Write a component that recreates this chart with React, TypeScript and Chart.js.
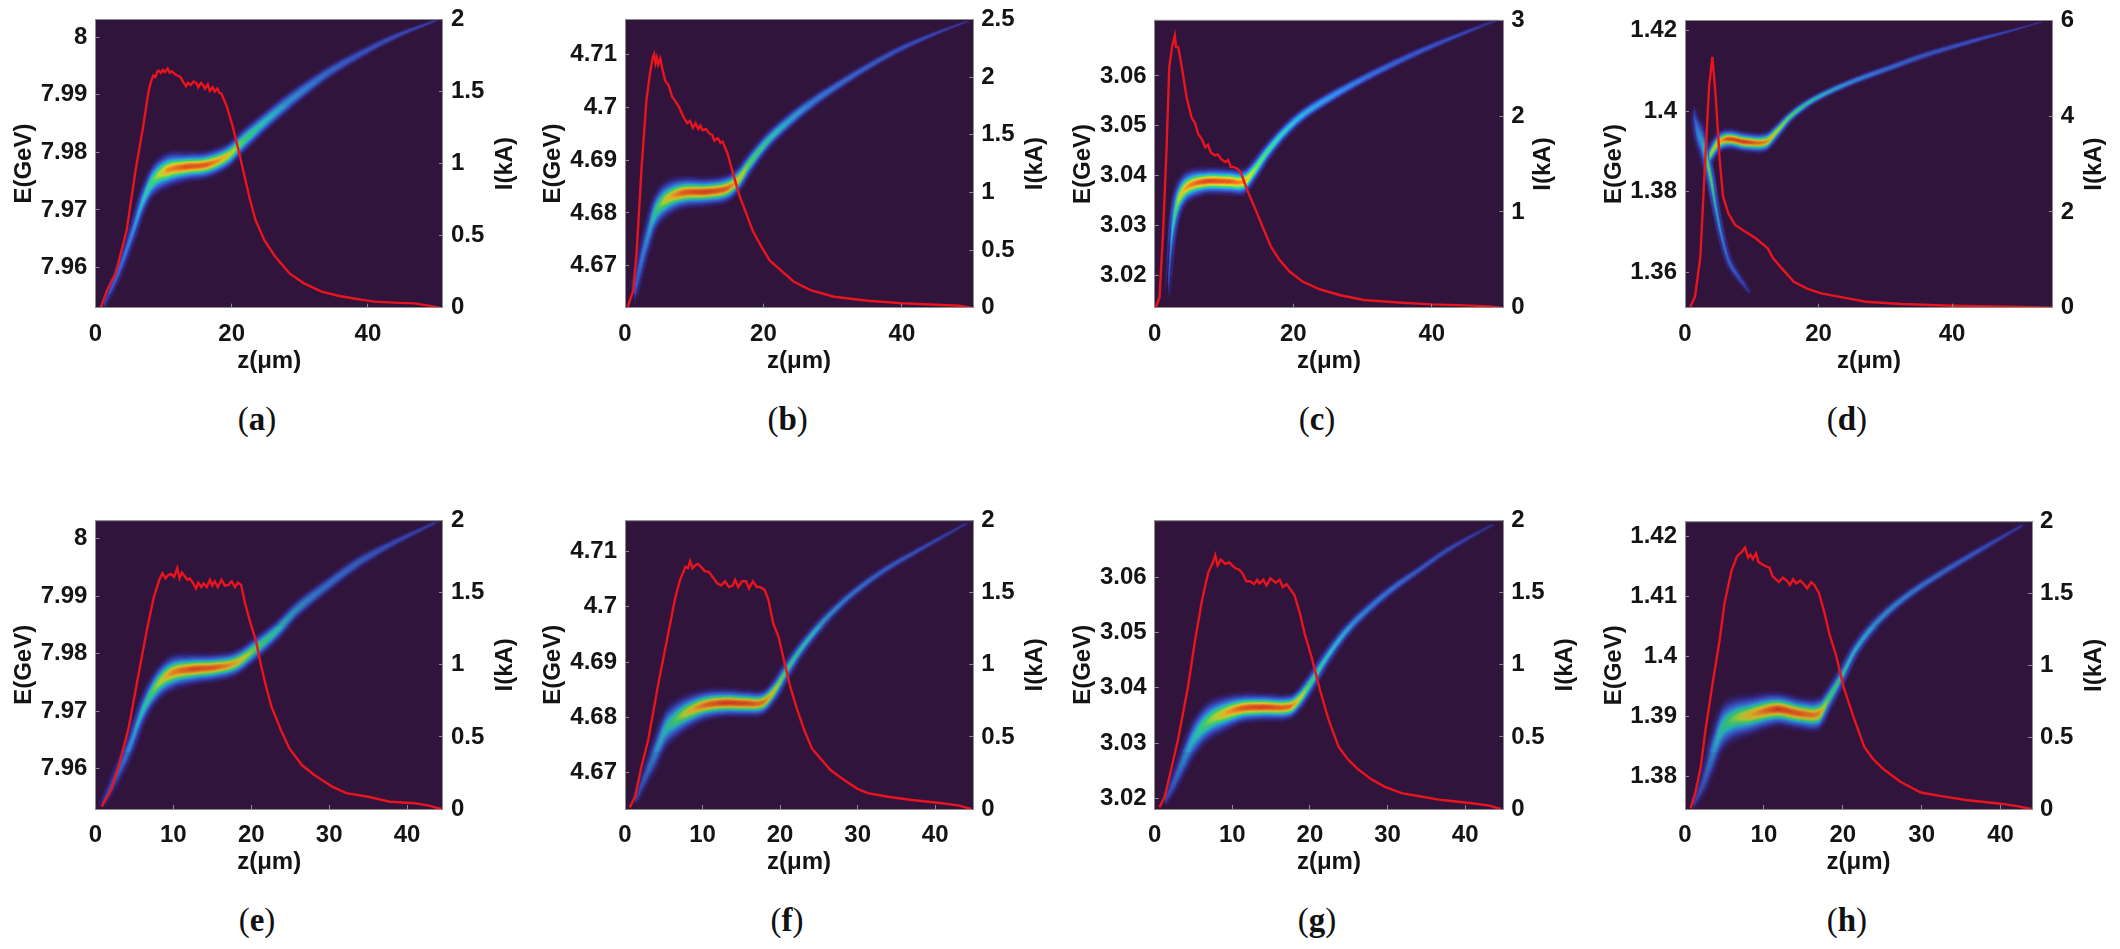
import React, { useEffect, useRef } from "react";
import { Chart, registerables } from "chart.js";

Chart.register(...registerables);

// ---------- tick labels ----------
const zTicksWide = [0, 20, 40];
const zTicksNarrow = [0, 10, 20, 30, 40];
const eTicksA = [7.96, 7.97, 7.98, 7.99, 8];
const eTicksB = [4.67, 4.68, 4.69, 4.7, 4.71];
const eTicksC = [3.02, 3.03, 3.04, 3.05, 3.06];
const eTicksD = [1.36, 1.38, 1.4, 1.42];
const eTicksH = [1.38, 1.39, 1.4, 1.41, 1.42];
const iTicks2 = [0, 0.5, 1, 1.5, 2];
const iTicks25 = [0, 0.5, 1, 1.5, 2, 2.5];
const iTicks3 = [0, 1, 2, 3];
const iTicks6 = [0, 2, 4, 6];

// ---------- red current profiles: [z (um), I (kA)] ----------
const currentA = [[0.8,0],[1.7,.12],[3,.24],[4.6,.54],[5.9,.955],[7,1.255],[7.75,1.487],[8.1,1.56],[8.5,1.61],[8.8,1.6],[9.1,1.64],[9.3,1.645],[9.6,1.63],[9.9,1.65],[10.2,1.635],[10.6,1.66],[10.9,1.63],[11.2,1.64],[11.7,1.62],[12.1,1.61],[12.5,1.6],[12.9,1.565],[13.3,1.537],[13.6,1.56],[14,1.545],[14.4,1.57],[14.8,1.56],[15.1,1.53],[15.5,1.56],[15.8,1.545],[16.1,1.52],[16.5,1.55],[16.8,1.505],[17.2,1.53],[17.5,1.5],[17.9,1.52],[18.2,1.49],[18.5,1.487],[19.3,1.394],[20.1,1.267],[21,1.094],[21.9,.909],[22.7,.747],[23.5,.608],[24.8,.469],[26.4,.354],[28.5,.238],[30.6,.169],[33.2,.111],[35.8,.081],[38.4,.06],[41,.042],[43.7,.035],[46.8,.03],[48.9,.014],[50.5,0]];
const currentB = [[.4,.01],[1.2,.15],[1.7,.5],[2.4,1.22],[3.1,1.8],[3.6,2.03],[4,2.17],[4.2,2.2],[4.4,2.12],[4.6,2.17],[4.8,2.11],[5.1,2.16],[5.4,2.07],[5.8,1.97],[6.3,1.93],[6.8,1.83],[7.3,1.79],[7.8,1.74],[8.4,1.66],[9,1.6],[9.4,1.62],[9.8,1.56],[10.2,1.6],[10.6,1.55],[10.9,1.58],[11.2,1.54],[11.7,1.55],[12.2,1.51],[12.6,1.5],[12.9,1.45],[13.4,1.47],[13.8,1.43],[14.1,1.44],[14.8,1.34],[15.6,1.165],[16.6,.96],[17.5,.82],[18.5,.66],[19.7,.53],[20.9,.41],[22.4,.33],[24.4,.225],[26.8,.153],[30.2,.095],[35.1,.06],[40,.038],[44.9,.026],[48.3,.017],[50,0]];
const currentC = [[.2,.01],[.7,.11],[1.2,.77],[1.7,1.64],[2.1,2.51],[2.5,2.72],[2.9,2.84],[3.1,2.72],[3.4,2.72],[4,2.47],[4.6,2.2],[5.3,1.99],[5.8,1.93],[6.3,1.81],[6.8,1.76],[7.3,1.675],[7.7,1.7],[8.1,1.62],[8.7,1.59],[9.1,1.6],[9.6,1.55],[10.2,1.52],[10.6,1.54],[11,1.47],[11.4,1.47],[11.9,1.45],[12.4,1.415],[13.4,1.22],[14.6,1.016],[15.6,.84],[16.8,.635],[18,.5],[19.5,.375],[21.4,.27],[23.9,.19],[26.8,.13],[30.2,.08],[35.1,.055],[40,.035],[44.9,.024],[48.3,.014],[50,0]];
const currentD = [[.8,.02],[1.5,.23],[2.3,1.06],[3.1,3.29],[3.6,4.61],[4.1,5.24],[4.6,4.41],[5.2,3.08],[5.7,2.32],[6.5,1.97],[7.5,1.73],[9,1.59],[10.6,1.45],[12.4,1.24],[13.2,1.03],[14.7,.79],[16.3,.54],[18.3,.4],[20.4,.3],[23,.23],[27.1,.125],[32.3,.077],[40,.04],[48.8,.02],[55,0]];
const currentE = [[.8,.016],[2,.13],[3.1,.32],[4.3,.57],[5.4,.895],[6.6,1.24],[7.5,1.47],[8.2,1.59],[8.6,1.635],[9,1.6],[9.3,1.62],[9.7,1.63],[10.1,1.61],[10.5,1.67],[10.8,1.6],[11.1,1.64],[11.4,1.62],[11.8,1.59],[12.1,1.6],[12.5,1.57],[12.9,1.53],[13.2,1.57],[13.6,1.54],[13.9,1.565],[14.3,1.54],[14.7,1.59],[15,1.55],[15.3,1.58],[15.7,1.54],[16.2,1.59],[16.6,1.55],[17.1,1.555],[17.5,1.58],[17.9,1.54],[18.3,1.57],[18.7,1.555],[19.2,1.43],[19.9,1.29],[20.6,1.17],[21.2,1.01],[21.9,.85],[22.6,.71],[23.8,.55],[24.9,.42],[26.5,.305],[28.1,.236],[30.4,.155],[32.2,.11],[35,.085],[37.8,.05],[41,.04],[42.8,.023],[44.4,0]];
const currentF = [[.6,.01],[1.3,.085],[2.1,.29],[3,.48],[4.3,.87],[5.4,1.17],[6.5,1.47],[7.1,1.59],[7.8,1.68],[8.1,1.67],[8.4,1.72],[8.7,1.67],[9,1.69],[9.4,1.7],[9.8,1.68],[10.3,1.65],[10.8,1.645],[11.3,1.61],[11.9,1.565],[12.4,1.55],[12.9,1.58],[13.4,1.54],[13.9,1.55],[14.2,1.59],[14.6,1.54],[15.1,1.58],[15.6,1.58],[16,1.53],[16.5,1.58],[17,1.54],[17.4,1.54],[18,1.52],[18.5,1.45],[19.1,1.29],[19.8,1.195],[20.4,1.055],[21.3,.85],[22.2,.69],[23.1,.55],[24.1,.42],[25.2,.35],[26.5,.27],[28.3,.2],[30,.14],[31.3,.11],[33.9,.085],[37,.062],[40.9,.04],[43.1,.023],[44.6,0]];
const currentG = [[.6,.01],[1.3,.085],[2.1,.27],[3,.48],[4.3,.85],[5.2,1.17],[6.1,1.45],[6.9,1.64],[7.5,1.71],[7.8,1.76],[8.1,1.69],[8.5,1.73],[9.1,1.7],[9.6,1.71],[10.4,1.67],[10.9,1.66],[11.3,1.635],[11.8,1.58],[12.3,1.58],[12.8,1.56],[13.2,1.59],[13.5,1.565],[14,1.59],[14.4,1.55],[14.9,1.6],[15.6,1.57],[16.1,1.59],[16.5,1.54],[17,1.56],[17.4,1.53],[18,1.485],[18.7,1.36],[19.3,1.22],[20.2,1.055],[21.3,.825],[22.4,.62],[23.7,.43],[24.8,.35],[26.1,.28],[27.8,.21],[29.6,.155],[31.8,.11],[33.9,.09],[37,.062],[40.9,.04],[43.1,.023],[44.6,0]];
const currentH = [[.7,.005],[1.3,.11],[2,.295],[2.6,.55],[3.5,.875],[4.4,1.18],[5,1.43],[5.9,1.66],[6.6,1.76],[7.2,1.79],[7.6,1.82],[8,1.75],[8.3,1.77],[8.6,1.74],[9,1.78],[9.3,1.72],[9.6,1.71],[10.2,1.69],[10.7,1.68],[11.1,1.62],[11.4,1.605],[11.9,1.58],[12.4,1.61],[12.9,1.59],[13.3,1.56],[13.7,1.6],[14.1,1.57],[14.6,1.59],[15,1.57],[15.5,1.535],[16,1.58],[16.4,1.56],[17,1.5],[17.7,1.36],[18.3,1.22],[19.2,1.06],[20.1,.85],[21.2,.665],[22.7,.435],[23.8,.35],[25.1,.28],[27.3,.19],[29.9,.115],[32.5,.09],[35.6,.063],[40,.037],[42.1,.02],[43.9,0]];

// ---------- beam ridges: [z (um), centre E (GeV), half extent (GeV), peak density 0..1] ----------
const ridgeA = [[1.2,7.9534,.0007,.15],[3.3,7.959,.0017,.2],[5.4,7.9659,.002,.3],[7,7.9717,.0023,.42],[8.5,7.9752,.0026,.58],[10.6,7.9769,.0026,.85],[13.3,7.9775,.0021,.95],[16.4,7.9779,.002,.92],[19.5,7.9795,.0019,.75],[21.6,7.9819,.0019,.58],[24.8,7.9853,.0017,.45],[27.9,7.9884,.0016,.37],[31.1,7.9913,.0014,.32],[34.2,7.9939,.0012,.25],[38.4,7.9968,.001,.2],[43.7,8,.0007,.17],[49.9,8.0029,.0003,.12]];
const ridgeB = [[1.4,4.6654,.0028,.2],[2.4,4.6711,.0032,.28],[3.4,4.6761,.0033,.35],[4.3,4.6799,.0033,.5],[5.8,4.6824,.003,.72],[8.3,4.6838,.0025,.92],[11.7,4.684,.0022,.97],[14.6,4.6846,.0022,.92],[16.3,4.6862,.0021,.78],[18,4.6894,.0019,.6],[20.5,4.6935,.0016,.5],[23.4,4.6971,.0015,.4],[26.3,4.7002,.0013,.33],[30.2,4.7037,.0011,.27],[35.1,4.7077,.0009,.22],[40,4.7112,.0008,.18],[44.9,4.714,.0005,.15],[49.3,4.7162,.00025,.1]];
const ridgeC = [[1.9,3.0175,.0035,.1],[2.15,3.0217,.0047,.18],[2.4,3.027,.0047,.35],[2.9,3.0324,.004,.55],[3.6,3.0357,.0033,.72],[4.8,3.0378,.0027,.85],[7.3,3.0388,.0022,.97],[10.7,3.0388,.0022,.95],[12.9,3.0388,.0022,.85],[14.4,3.0411,.002,.65],[16.1,3.0445,.0017,.55],[18.5,3.0485,.0015,.45],[21.4,3.0522,.0013,.38],[25.3,3.0557,.0012,.32],[30.2,3.0595,.001,.25],[35.1,3.0629,.00095,.2],[40,3.066,.0008,.17],[44.9,3.0688,.00055,.14],[49.3,3.0712,.0003,.1]];
const ridgeD1 = [[1.3,1.399,.0032,.12],[1.8,1.3953,.0041,.3],[2.6,1.392,.0046,.38],[3.4,1.387,.0037,.62],[4.1,1.3812,.0033,.6],[4.6,1.3762,.0025,.45],[5.4,1.3696,.002,.35],[6.5,1.363,.0018,.22],[8,1.3588,.0012,.18],[9.6,1.3551,.0007,.1]];
const ridgeD2 = [[3.6,1.3887,.0021,.65],[4.9,1.392,.0023,.75],[6.5,1.3931,.0021,.95],[9,1.3924,.0021,.97],[12.1,1.3924,.0021,.85],[13.7,1.3949,.0017,.7],[15.7,1.3986,.0012,.6],[18.3,1.4019,.0011,.5],[21.4,1.4047,.001,.42],[25.6,1.4077,.001,.33],[30.7,1.4108,.001,.25],[35.9,1.4139,.001,.2],[43.6,1.4177,.0008,.17],[48.8,1.42,.0005,.13],[53.4,1.4222,.00025,.08]];
const ridgeE = [[.8,7.9537,.0007,.15],[2.4,7.958,.0019,.22],[4.3,7.9635,.0022,.32],[6.1,7.9702,.0023,.45],[7.9,7.9745,.0026,.65],[9.8,7.9766,.0026,.85],[12.5,7.9773,.0022,.95],[15.3,7.9776,.002,.92],[18,7.9784,.0019,.8],[20.3,7.9806,.0019,.62],[23.1,7.9838,.0017,.48],[25.8,7.9876,.0016,.38],[29,7.9911,.0014,.3],[33.6,7.9957,.0012,.25],[38.2,7.9992,.0008,.18],[43.7,8.0028,.00035,.12]];
const ridgeF = [[1.3,4.6647,.0009,.15],[2.6,4.6692,.0021,.25],[3.9,4.6734,.003,.35],[5.2,4.6777,.0033,.45],[6.5,4.6795,.0031,.58],[8.2,4.681,.0027,.75],[10.4,4.6822,.0023,.9],[13,4.6826,.0021,.97],[15.6,4.6825,.002,.95],[17.8,4.6827,.0019,.88],[19.3,4.6849,.0018,.72],[20.9,4.6886,.0016,.55],[22.6,4.6922,.0013,.48],[24.8,4.6961,.0012,.42],[27,4.6994,.001,.36],[29.6,4.7027,.0009,.3],[33.5,4.7067,.0008,.24],[37.9,4.7103,.0006,.2],[44,4.7151,.00025,.12]];
const ridgeG = [[1.3,3.0194,.0011,.15],[2.6,3.0233,.0023,.25],[3.9,3.0275,.003,.35],[5.2,3.0312,.0033,.45],[6.9,3.0339,.0031,.62],[9.1,3.0354,.0027,.8],[11.3,3.0363,.0022,.93],[13.9,3.0365,.002,.97],[17.4,3.0366,.0019,.9],[18.7,3.0381,.0018,.72],[20.2,3.0411,.0017,.55],[22.2,3.0456,.0014,.45],[24.8,3.0505,.0012,.38],[27.4,3.0541,.0011,.32],[30.4,3.0577,.001,.28],[33.9,3.0612,.0008,.22],[37.9,3.0651,.0007,.18],[43.5,3.0695,.00025,.1]];
const ridgeH = [[1.1,1.3753,.0008,.14],[2.4,1.3794,.0025,.22],[3.5,1.3839,.0036,.35],[4.6,1.3878,.0036,.48],[5.9,1.3894,.0032,.6],[8.1,1.3902,.0028,.78],[11.6,1.3912,.0023,.97],[14.6,1.3905,.0022,.92],[17,1.3905,.0023,.85],[18.1,1.3927,.0018,.6],[19.9,1.3968,.0014,.5],[21.6,1.4011,.0012,.42],[24.2,1.4055,.0011,.38],[27.7,1.4096,.0009,.34],[32.1,1.4135,.0008,.28],[36.9,1.4173,.0007,.22],[42.8,1.4218,.0003,.12]];

// ---------- colours ----------
const plotBackground = "#31143b";
const jetStops: number[][] = [
  [0, 49, 20, 59], [0.05, 50, 38, 120], [0.15, 58, 80, 200], [0.3, 50, 140, 235], [0.43, 40, 205, 205],
  [0.56, 60, 225, 120], [0.68, 190, 235, 50], [0.78, 250, 200, 40], [0.88, 250, 130, 30], [1, 225, 50, 30],
];
const heatLevels = 48;
const beamSpreadZ = 0.55; // sideways softness of the beam, in um
const spreadOffsets = [-1.2, -0.8, -0.4, 0, 0.4, 0.8, 1.2];

function colourFor(v: number) {
  for (let i = 1; i < jetStops.length; i++) {
    if (v <= jetStops[i][0]) {
      const a = jetStops[i - 1], b = jetStops[i];
      const t = (v - a[0]) / (b[0] - a[0]);
      return `rgb(${Math.round(a[1] + (b[1] - a[1]) * t)},${Math.round(a[2] + (b[2] - a[2]) * t)},${Math.round(a[3] + (b[3] - a[3]) * t)})`;
    }
  }
  return "rgb(225,50,30)";
}

// ---------- panels: ranges, ticks, layout on the page ----------
const panels = [
  { cap: "a", zMax: 51, eMin: 7.953, eMax: 8.0031, iMax: 2, zT: zTicksWide, eT: eTicksA, iT: iTicks2, cur: currentA, rid: [ridgeA], L: 95.4, R: 442.9, T: 19.5, B: 307.7, lt: 24.3, rt: 505.4, cx: 257 },
  { cap: "b", zMax: 50.3, eMin: 4.66205, eMax: 4.71662, iMax: 2.5, zT: zTicksWide, eT: eTicksB, iT: iTicks25, cur: currentB, rid: [ridgeB], L: 625, R: 973.2, T: 19.5, B: 307.7, lt: 553, rt: 1035.4, cx: 787.6 },
  { cap: "c", zMax: 50.3, eMin: 3.01343, eMax: 3.07119, iMax: 3, zT: zTicksWide, eT: eTicksC, iT: iTicks3, cur: currentC, rid: [ridgeC], L: 1154.7, R: 1503.2, T: 20.3, B: 307.7, lt: 1083, rt: 1543.4, cx: 1317 },
  { cap: "d", zMax: 55.1, eMin: 1.35113, eMax: 1.42257, iMax: 6, zT: zTicksWide, eT: eTicksD, iT: iTicks6, cur: currentD, rid: [ridgeD1, ridgeD2], L: 1685, R: 2052.8, T: 20.5, B: 307.7, lt: 1614.4, rt: 2094.8, cx: 1846.9 },
  { cap: "e", zMax: 44.6, eMin: 7.953, eMax: 8.0031, iMax: 2, zT: zTicksNarrow, eT: eTicksA, iT: iTicks2, cur: currentE, rid: [ridgeE], L: 95.4, R: 442.9, T: 520.7, B: 809, lt: 24.3, rt: 505.4, cx: 257 },
  { cap: "f", zMax: 44.9, eMin: 4.66335, eMax: 4.71562, iMax: 2, zT: zTicksNarrow, eT: eTicksB, iT: iTicks2, cur: currentF, rid: [ridgeF], L: 625, R: 973.2, T: 520.7, B: 809, lt: 553, rt: 1035.4, cx: 787 },
  { cap: "g", zMax: 44.9, eMin: 3.01807, eMax: 3.07026, iMax: 2, zT: zTicksNarrow, eT: eTicksC, iT: iTicks2, cur: currentG, rid: [ridgeG], L: 1154.7, R: 1503.2, T: 520.7, B: 809, lt: 1083, rt: 1565.4, cx: 1317 },
  { cap: "h", zMax: 44, eMin: 1.37463, eMax: 1.42238, iMax: 2, zT: zTicksNarrow, eT: eTicksH, iT: iTicks2, cur: currentH, rid: [ridgeH], L: 1685, R: 2032.1, T: 521.7, B: 809, lt: 1614.4, rt: 2094.8, cx: 1846.9 },
];

// Smooth reading of a ridge's knots at a given z.
function ridgeAt(r: number[][], z: number) {
  if (z < r[0][0] || z > r[r.length - 1][0]) return null;
  let i = 0;
  while (i < r.length - 2 && z > r[i + 1][0]) i++;
  const a = r[i], b = r[i + 1];
  const h = b[0] - a[0];
  const t = (z - a[0]) / h;
  const slope = (k: number) => {
    const p = r[Math.max(k - 1, 0)], n = r[Math.min(k + 1, r.length - 1)];
    return (n[1] - p[1]) / (n[0] - p[0]);
  };
  const m0 = slope(i), m1 = slope(i + 1);
  const t2 = t * t, t3 = t2 * t;
  const e = (2 * t3 - 3 * t2 + 1) * a[1] + (t3 - 2 * t2 + t) * h * m0 + (-2 * t3 + 3 * t2) * b[1] + (t3 - t2) * h * m1;
  return { e, w: a[2] + (b[2] - a[2]) * t, p: a[3] + (b[3] - a[3]) * t };
}

// One scatter dataset per colour level, cells of the density field around the ridges.
function heatDatasets(p: (typeof panels)[number]) {
  const step = 1;
  const nx = Math.round((p.R - p.L) / step);
  const ny = Math.round((p.B - p.T) / step);
  const dz = p.zMax / nx;
  const dE = (p.eMax - p.eMin) / ny;
  const buckets: { x: number; y: number }[][] = Array.from({ length: heatLevels }, () => []);
  for (let ix = 0; ix <= nx; ix++) {
    const z = ix * dz;
    const col = new Float32Array(ny + 1);
    for (const r of p.rid) {
      for (const off of spreadOffsets) {
        const s = ridgeAt(r, z + off);
        if (!s) continue;
        const g = Math.exp((-2.3 * off * off) / (beamSpreadZ * beamSpreadZ));
        const lo = Math.max(0, Math.floor((s.e - s.w * 1.6 - p.eMin) / dE));
        const hi = Math.min(ny, Math.ceil((s.e + s.w * 1.6 - p.eMin) / dE));
        for (let iy = lo; iy <= hi; iy++) {
          const d = (p.eMin + iy * dE - s.e) / s.w;
          const v = s.p * g * Math.exp(-2.3 * d * d);
          if (v > col[iy]) col[iy] = v;
        }
      }
    }
    for (let iy = 0; iy <= ny; iy++) {
      if (col[iy] < 0.012) continue;
      const lv = Math.min(heatLevels - 1, Math.floor(col[iy] * heatLevels));
      buckets[lv].push({ x: z, y: p.eMin + iy * dE });
    }
  }
  return buckets.map((data, lv) => ({
    data,
    yAxisID: "y",
    order: 100 - lv,
    pointStyle: "rect",
    pointRadius: 0.8,
    pointBorderWidth: 0,
    pointBackgroundColor: colourFor((lv + 0.5) / heatLevels),
    showLine: false,
  }));
}

const tickFont = { family: "'Liberation Sans', Arial, sans-serif", size: 24, weight: "bold" as const };
const titleFont = { family: "'Liberation Sans', Arial, sans-serif", size: 24, weight: "bold" as const };
const ink = "#141414";
const frame = "#8c8c8c";

function Panel({ p }: { p: (typeof panels)[number] }) {
  const ref = useRef<HTMLCanvasElement>(null);
  const x0 = Math.floor(p.lt) - 20;
  const x1 = Math.ceil(p.rt) + 20;
  const y0 = Math.floor(p.T) - 34;
  const y1 = Math.ceil(p.B) + 76;
  useEffect(() => {
    const axisCommon = {
      grid: { drawOnChartArea: false, drawTicks: true, tickLength: -4, tickColor: frame, lineWidth: 1, z: 1 },
      border: { display: true, color: frame, width: 1, z: 1 },
    };
    const ticksCommon = { color: ink, font: tickFont, autoSkip: false, maxRotation: 0, minRotation: 0 };
    const labelIfy = (v: number | string) => String(v);
    const forced = (list: number[]) => (s: any) => {
      s.ticks = list.map((value) => ({ value }));
    };
    const chart = new Chart(ref.current!, {
      type: "scatter",
      data: {
        datasets: [
          {
            label: "I(kA)",
            data: p.cur.map(([x, y]) => ({ x, y })),
            yAxisID: "y1",
            order: 0,
            showLine: true,
            borderColor: "#e8141e",
            borderWidth: 2.4,
            pointRadius: 0,
            tension: 0,
          },
          ...heatDatasets(p),
        ] as any,
      },
      options: {
        animation: false,
        responsive: false,
        events: [],
        layout: { padding: { top: p.T - y0, left: 0, right: 0, bottom: 0 } },
        plugins: { legend: { display: false }, tooltip: { enabled: false }, title: { display: false } },
        scales: {
          x: {
            type: "linear",
            min: 0,
            max: p.zMax,
            ...axisCommon,
            afterBuildTicks: forced(p.zT),
            afterFit: (s: any) => { s.height = y1 - p.B; },
            ticks: { ...ticksCommon, padding: 16, callback: labelIfy },
            title: { display: true, text: "z(μm)", color: ink, font: titleFont, padding: { top: 0, bottom: 8 } },
          },
          y: {
            type: "linear",
            position: "left",
            min: p.eMin,
            max: p.eMax,
            ...axisCommon,
            afterBuildTicks: forced(p.eT),
            afterFit: (s: any) => { s.width = p.L - x0; },
            ticks: { ...ticksCommon, padding: 12, callback: labelIfy },
            title: { display: true, text: "E(GeV)", color: ink, font: titleFont, padding: { top: 6, bottom: 0 } },
          },
          y1: {
            type: "linear",
            position: "right",
            min: 0,
            max: p.iMax,
            ...axisCommon,
            afterBuildTicks: forced(p.iT),
            afterFit: (s: any) => { s.width = x1 - p.R; },
            ticks: { ...ticksCommon, padding: 12, callback: labelIfy },
          },
        },
      } as any,
      plugins: [
        {
          id: "panelDressing",
          beforeDatasetsDraw(c: any) {
            const a = c.chartArea;
            c.ctx.save();
            c.ctx.fillStyle = plotBackground;
            c.ctx.fillRect(a.left, a.top, a.right - a.left, a.bottom - a.top);
            c.ctx.restore();
          },
          afterDraw(c: any) {
            const a = c.chartArea;
            const ctx = c.ctx;
            ctx.save();
            ctx.strokeStyle = frame;
            ctx.lineWidth = 1;
            ctx.beginPath();
            ctx.moveTo(a.left, a.top);
            ctx.lineTo(a.right, a.top);
            ctx.stroke();
            ctx.translate(p.rt - x0, (a.top + a.bottom) / 2);
            ctx.rotate(-Math.PI / 2);
            ctx.fillStyle = ink;
            ctx.textAlign = "center";
            ctx.textBaseline = "middle";
            ctx.font = `bold ${titleFont.size}px ${titleFont.family}`;
            ctx.fillText("I(kA)", 0, 0);
            ctx.restore();
          },
        },
      ],
    });
    return () => chart.destroy();
  }, []);
  return (
    <canvas
      ref={ref}
      width={x1 - x0}
      height={y1 - y0}
      style={{ position: "absolute", left: x0, top: y0, width: x1 - x0, height: y1 - y0, filter: "blur(0.5px)" }}
    />
  );
}

export default function App() {
  return (
    <div style={{ position: "absolute", left: 0, top: 0, width: 2120, height: 949, background: "#fff", overflow: "hidden" }}>
      {panels.map((p) => (
        <React.Fragment key={p.cap}>
          <Panel p={p} />
          <div
            style={{
              position: "absolute",
              left: p.cx - 40,
              width: 80,
              top: p.B + 93,
              textAlign: "center",
              fontFamily: "'Liberation Serif', serif",
              fontSize: 33,
              lineHeight: "36px",
              color: "#111",
            }}
          >
            (<b>{p.cap}</b>)
          </div>
        </React.Fragment>
      ))}
    </div>
  );
}
